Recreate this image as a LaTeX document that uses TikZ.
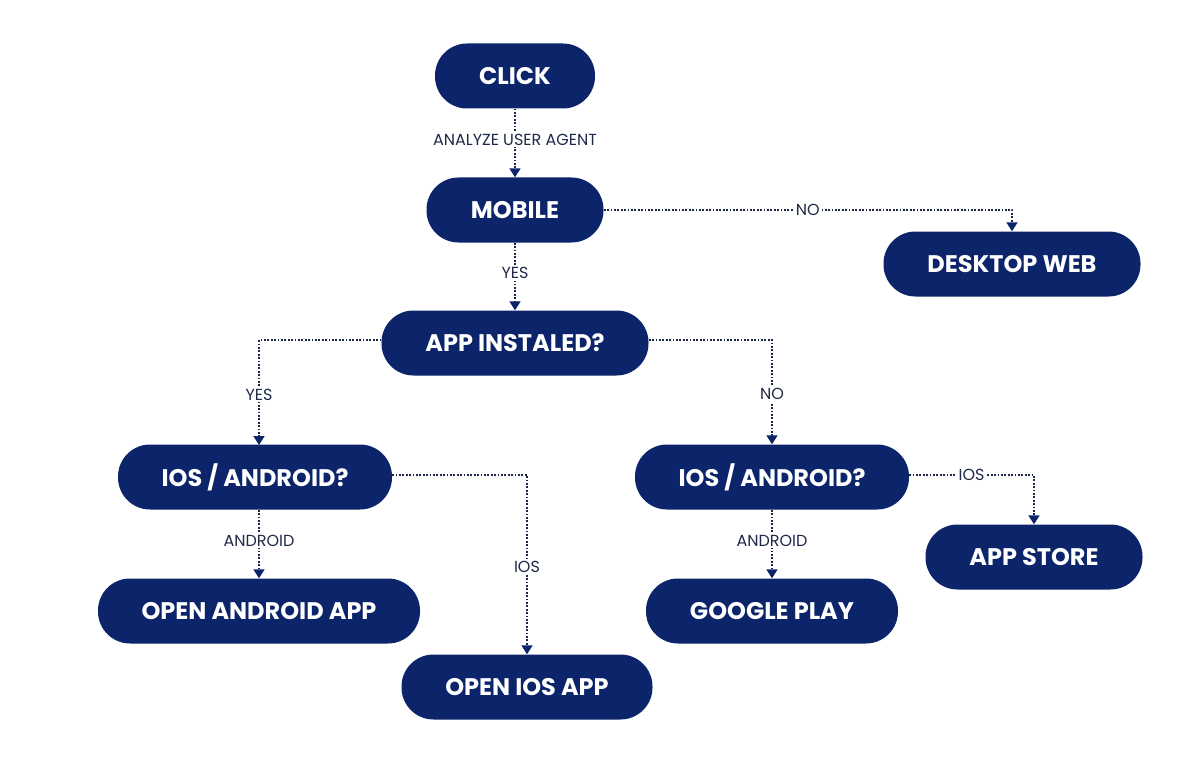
\documentclass[tikz,border=0pt]{standalone}
\usepackage{fontspec}
\setmainfont{Poppins}
\usetikzlibrary{arrows.meta}
\definecolor{navy}{HTML}{0C256A}
\definecolor{linec}{HTML}{1B2548}
\definecolor{labelc}{HTML}{1F2A4A}
\tikzset{
  box/.style={rectangle, rounded corners=32pt, fill=navy, text=white, minimum height=65pt, inner sep=0pt, font=\fontsize{24}{28}\selectfont\bfseries},
  conn/.style={draw=linec, line width=1.7pt, dash pattern=on 1.8pt off 1.6pt, -{Triangle[width=11pt,length=9pt,fill=navy,color=navy]}},
  lbl/.style={fill=white, text=labelc, inner sep=2pt, font=\fontsize{16}{18}\selectfont}
}
\begin{document}
\begin{tikzpicture}[x=1pt,y=-1pt]
\useasboundingbox (0,0) rectangle (1197,757);
\node[box, minimum width=160pt] (click) at (515,76) {CLICK};
\node[box, minimum width=177pt] (mobile) at (515,210) {MOBILE};
\node[box, minimum width=257pt] (desk) at (1012,264) {DESKTOP WEB};
\node[box, minimum width=267pt] (inst) at (515,343) {APP INSTALED?};
\node[box, minimum width=274pt] (osl) at (255,477) {IOS / ANDROID?};
\node[box, minimum width=274pt] (osr) at (772,477) {IOS / ANDROID?};
\node[box, minimum width=322pt] (oand) at (259,611) {OPEN ANDROID APP};
\node[box, minimum width=251pt] (oios) at (527,687) {OPEN IOS APP};
\node[box, minimum width=252pt] (gplay) at (772,611) {GOOGLE PLAY};
\node[box, minimum width=217pt] (astore) at (1034,557) {APP STORE};

\draw[conn] (click.south) -- node[lbl, pos=0.45] {ANALYZE USER AGENT} (mobile.north);
\draw[conn] (mobile.east) -- node[lbl, pos=0.5] {NO} (1012,210) -- (desk.north);
\draw[conn] (mobile.south) -- node[lbl, pos=0.45] {YES} (inst.north);
\draw[conn] (inst.west |- 0,340) -- (259,340) -- node[lbl, pos=0.52] {YES} (259,445) ;
\draw[conn] (inst.east |- 0,340) -- (772,340) -- node[lbl, pos=0.52] {NO} (osr.north);
\draw[conn] (osl.south -| 259,0) -- node[lbl, pos=0.45] {ANDROID} (oand.north);
\draw[conn] (osl.east |- 0,475) -- (527,475) -- node[lbl, pos=0.51] {IOS} (oios.north);
\draw[conn] (osr.south) -- node[lbl, pos=0.45] {ANDROID} (gplay.north);
\draw[conn] (osr.east |- 0,475) -- node[lbl] {IOS} (1034,475) -- (astore.north);
\end{tikzpicture}
\end{document}
